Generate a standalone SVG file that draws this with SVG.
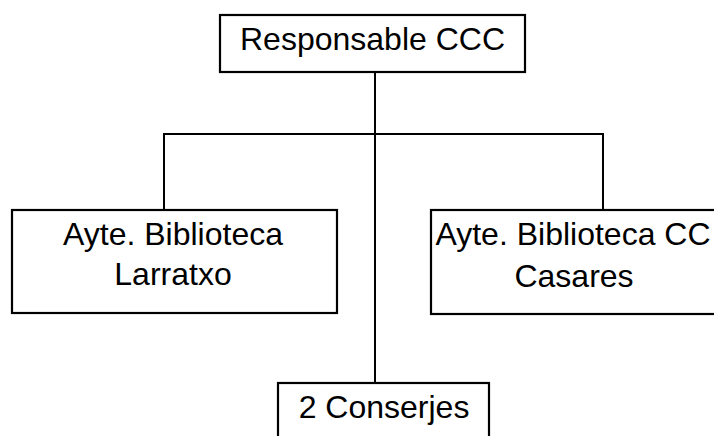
<svg xmlns="http://www.w3.org/2000/svg" width="714" height="436" viewBox="0 0 714 436">
<style>
.box{fill:#fff;stroke:#000;stroke-width:2.2}
.lbl{font-family:"Liberation Sans",Arial,sans-serif;font-size:32px;fill:#000;text-anchor:middle}
.conn{fill:none;stroke:#000;stroke-width:2}
</style>
<rect width="714" height="436" fill="#fff"/>
<g id="connectors">
<line class="conn" x1="375" y1="72" x2="375" y2="383"/>
<polyline class="conn" points="164,210 164,134 603,134 603,210"/>
</g>
<g id="responsable">
<rect class="box" x="220" y="15" width="305" height="57"/>
<text class="lbl" x="372.5" y="50">Responsable CCC</text>
</g>
<g id="larratxo">
<rect class="box" x="12" y="210" width="325" height="103"/>
<text class="lbl" x="173" y="245">Ayte. Biblioteca</text>
<text class="lbl" x="173" y="285">Larratxo</text>
</g>
<g id="casares">
<rect class="box" x="431" y="210" width="300" height="104"/>
<text class="lbl" x="573" y="245">Ayte. Biblioteca CC</text>
<text class="lbl" x="574" y="287">Casares</text>
</g>
<g id="conserjes">
<rect class="box" x="278" y="383" width="211" height="80"/>
<text class="lbl" x="384" y="418">2 Conserjes</text>
</g>
</svg>
